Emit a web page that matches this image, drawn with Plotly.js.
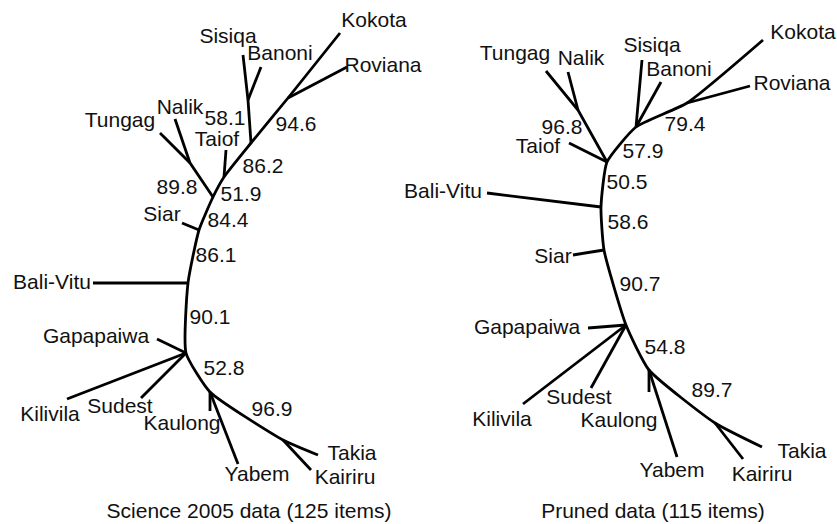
<!DOCTYPE html>
<html>
<head>
<meta charset="utf-8">
<script src="https://cdn.plot.ly/plotly-3.0.1.min.js"></script>
<style>html,body{margin:0;padding:0;background:#fff}#chart{width:837px;height:524px}</style>
</head>
<body>
<div id="chart"></div>
<script>
// ---- Left tree: Science 2005 data (125 items) ----
const leftNodeNames = ["Kokota","Roviana","Sisiqa","Banoni","Taiof","Tungag","Nalik","Siar","Bali-Vitu","Gapapaiwa","Kilivila","Sudest","Kaulong","Yabem","Takia","Kairiru","A","B","C","D","E","F","G","H","I","J","K"];
const leftNodeX = [340,347,243,261,226,160,175,182,93,157,67,141,210,238,318,311,288,248,251,224,190,213,199,188,186,210,283];
const leftNodeY = [33,67,55,67,150,133,119,223,283,339,399,398,411,464,455,470,98,100,143,177,163,197,230,283,353,392,440];
// branches as paths through the nodes (the first one is the trunk)
const leftPaths = [
  ["Kokota","A","C","D","F","G","H","I","J","K","Takia"],
  ["Roviana","A"], ["Sisiqa","B","C"], ["Banoni","B"], ["Taiof","D"],
  ["Tungag","E","F"], ["Nalik","E"], ["Siar","G"], ["Bali-Vitu","H"],
  ["Gapapaiwa","I"], ["Kilivila","I"], ["Sudest","I"], ["Kaulong","J"],
  ["Yabem","J"], ["Kairiru","K"]
];
const leftLabels  = ["Kokota","Sisiqa","Banoni","Roviana","Nalik","Tungag","58.1","94.6","Taiof","86.2","89.8","51.9","Siar","84.4","86.1","Bali-Vitu","90.1","Gapapaiwa","52.8","Kilivila","Sudest","96.9","Kaulong","Takia","Yabem","Kairiru"];
const leftLabelX  = [374,228,280,383,180,120,225,296,217,263,177,241,162,228,216,52,210,96,224,50,120,272,182,352,257,345];
const leftLabelY  = [22,38,55,67,109,122,120,126,141,168,189,196,216,222,257,284,319,338,370,416,408,411,425,455,476,479];
const leftTitle = "Science 2005 data (125 items)";

// ---- Right tree: Pruned data (115 items) ----
const rightNodeNames = ["Kokota","Roviana","Sisiqa","Banoni","Taiof","Tungag","Nalik","Siar","Bali-Vitu","Gapapaiwa","Kilivila","Sudest","Kaulong","Yabem","Takia","Kairiru","A","B","C","E","H","G","I","J","K"];
const rightNodeX = [763,750,642,661,569,546,568,573,487,588,523,591,649,677,762,743,687,636,607,578,601,604,626,649,715];
const rightNodeY = [40,86,60,82,143,71,72,255,193,328,404,388,392,457,447,459,103,127,162,110,207,250,325,370,423];
const rightPaths = [
  ["Kokota","A","B","C","H","G","I","J","K","Takia"],
  ["Roviana","A"], ["Sisiqa","B"], ["Banoni","B"], ["Tungag","E","C"],
  ["Nalik","E"], ["Taiof","C"], ["Bali-Vitu","H"], ["Siar","G"],
  ["Gapapaiwa","I"], ["Kilivila","I"], ["Sudest","I"], ["Kaulong","J"],
  ["Yabem","J"], ["Kairiru","K"]
];
const rightLabels = ["Kokota","Tungag","Nalik","Sisiqa","Banoni","Roviana","96.8","79.4","Taiof","57.9","Bali-Vitu","50.5","58.6","Siar","90.7","Gapapaiwa","54.8","89.7","Sudest","Kilivila","Kaulong","Takia","Yabem","Kairiru"];
const rightLabelX = [803,515,581,652,679,792,562,685,538,643,443,627,628,553,640,527,665,712,579,502,619,802,672,762];
const rightLabelY = [34,55,60,47,71,85,129,126,148,153,193,184,224,258,286,329,349,392,399,421,422,453,472,476];
const rightTitle = "Pruned data (115 items)";
const titleX = [249,653];
const titleY = [513,513];

function pathTraces(names, xs, ys, paths) {
  return paths.map(function (p, i) {
    const x = [], y = [];
    p.forEach(function (n) { const k = names.indexOf(n); x.push(xs[k]); y.push(ys[k]); });
    return {type:"scatter", mode:"lines", x:x, y:y, hoverinfo:"skip", showlegend:false,
            line:{color:"#000", width:2.8, shape: i === 0 ? "spline" : "linear", smoothing:0.5}};
  });
}
function labelTrace(txt, xs, ys) {
  return {type:"scatter", mode:"text", x:xs, y:ys, text:txt, textposition:"middle center",
          cliponaxis:false, hoverinfo:"skip", showlegend:false,
          textfont:{family:"Liberation Sans, Arial, Helvetica, sans-serif", size:21, color:"#111"}};
}

const data = [].concat(
  pathTraces(leftNodeNames, leftNodeX, leftNodeY, leftPaths),
  pathTraces(rightNodeNames, rightNodeX, rightNodeY, rightPaths),
  [labelTrace(leftLabels, leftLabelX, leftLabelY),
   labelTrace(rightLabels, rightLabelX, rightLabelY),
   labelTrace([leftTitle, rightTitle], titleX, titleY)]
);
const layout = {
  width:837, height:524, margin:{l:0,r:0,t:0,b:0},
  paper_bgcolor:"#fff", plot_bgcolor:"#fff",
  xaxis:{range:[0,837], visible:false, fixedrange:true},
  yaxis:{range:[524,0], visible:false, fixedrange:true},
  showlegend:false
};
Plotly.newPlot("chart", data, layout, {displayModeBar:false, staticPlot:true});
</script>
</body>
</html>
